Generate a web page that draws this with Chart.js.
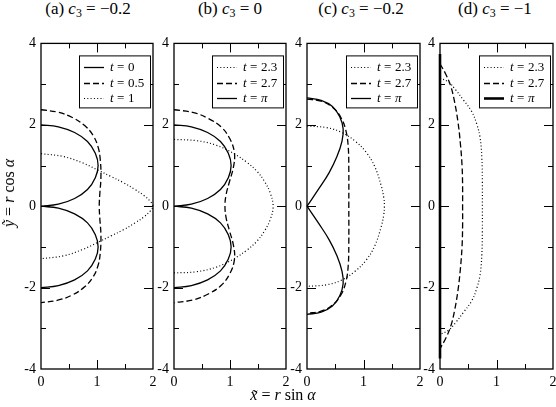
<!DOCTYPE html>
<html>
<head>
<meta charset="utf-8">
<script src="https://cdn.jsdelivr.net/npm/chart.js@4.4.0/dist/chart.umd.min.js"></script>
<style>
  body { margin: 0; width: 556px; height: 407px; background: #fff; position: relative; overflow: hidden;
         font-family: "Liberation Serif", serif; color: #000; }
  canvas { position: absolute; top: 30px; }
  .ttl { position: absolute; top: -1px; font-size: 17px; white-space: nowrap; transform: translateX(-50%); }
  .ttl sub, .lbl sub { font-size: 70%; vertical-align: -3px; line-height: 0; }
  .lbl { position: absolute; font-size: 16px; white-space: nowrap; }
</style>
</head>
<body>
<div id="titles"></div>
<canvas id="pa" width="156" height="359"></canvas>
<canvas id="pb" width="156" height="359"></canvas>
<canvas id="pc" width="157" height="359"></canvas>
<canvas id="pd" width="157" height="359"></canvas>
<div class="lbl" id="xlab" style="left:283px;top:386px;transform:translateX(-50%)"><i>x&#771;</i> = <i>r</i> sin <i>&alpha;</i></div>
<div class="lbl" id="ylab" style="left:9px;top:193px;transform:translate(-50%,-50%) rotate(-90deg)"><i>y&#771;</i> = <i>r</i> cos <i>&alpha;</i></div>
<script>
// panel labels
const panelNames = ['(a)', '(b)', '(c)', '(d)'];
const c3Values = ['\u22120.2', '0', '\u22120.2', '\u22121'];
const xTicks = [0, 1, 2];
const yTicks = [-4, -2, 0, 2, 4];

// (a) c3 = -0.2
const a_t0 = [[0,2],[0.31,1.95],[0.6,1.81],[0.83,1.59],[0.97,1.3],[1.02,1.0],[0.97,0.7],[0.83,0.41],[0.6,0.19],[0.31,0.05],[0,0],null,
              [0,0],[0.31,-0.05],[0.6,-0.19],[0.83,-0.41],[0.97,-0.7],[1.02,-1.0],[0.97,-1.3],[0.83,-1.59],[0.6,-1.81],[0.31,-1.95],[0,-2]];
const a_t05 = [[0,2.37],[0.3,2.31],[0.56,2.18],[0.78,1.98],[0.93,1.74],[1.02,1.45],[1.06,1.12],[1.07,0.7],[1.05,0.3],[1.04,0],
               [1.05,-0.3],[1.07,-0.7],[1.06,-1.12],[1.02,-1.45],[0.93,-1.74],[0.78,-1.98],[0.56,-2.18],[0.3,-2.31],[0,-2.37]];
const a_t1 = [[0,1.29],[0.4,1.22],[0.75,1.06],[1.02,0.885],[1.25,0.73],[1.47,0.58],[1.68,0.41],[1.84,0.26],[1.95,0.12],[2.0,0],
              [1.95,-0.12],[1.84,-0.26],[1.68,-0.41],[1.47,-0.58],[1.25,-0.73],[1.02,-0.885],[0.75,-1.06],[0.4,-1.22],[0,-1.29]];

// (b) c3 = 0
const b_t23 = [[0,1.64],[0.4,1.61],[0.75,1.5],[1.06,1.3],[1.3,1.08],[1.48,0.86],[1.62,0.6],[1.72,0.32],[1.77,0],
               [1.72,-0.32],[1.62,-0.6],[1.48,-0.86],[1.3,-1.08],[1.06,-1.3],[0.75,-1.5],[0.4,-1.61],[0,-1.64]];
const b_t27 = [[0,2.37],[0.35,2.3],[0.62,2.15],[0.84,1.95],[1.0,1.65],[1.08,1.3],[1.06,0.95],[0.99,0.6],[0.93,0.28],[0.91,0],
               [0.93,-0.28],[0.99,-0.6],[1.06,-0.95],[1.08,-1.3],[1.0,-1.65],[0.84,-1.95],[0.62,-2.15],[0.35,-2.3],[0,-2.37]];
const b_tpi = [[0,2],[0.31,1.95],[0.6,1.81],[0.83,1.59],[0.97,1.3],[1.02,1.0],[0.97,0.7],[0.83,0.41],[0.6,0.19],[0.31,0.05],[0,0],null,
               [0,0],[0.31,-0.05],[0.6,-0.19],[0.83,-0.41],[0.97,-0.7],[1.02,-1.0],[0.97,-1.3],[0.83,-1.59],[0.6,-1.81],[0.31,-1.95],[0,-2]];

// (c) c3 = -0.2
const c_t23 = [[0,1.97],[0.35,1.93],[0.62,1.81],[0.85,1.6],[1.05,1.32],[1.2,0.97],[1.31,0.52],[1.36,0.2],[1.37,0],
               [1.36,-0.2],[1.31,-0.52],[1.2,-0.97],[1.05,-1.32],[0.85,-1.6],[0.62,-1.81],[0.35,-1.93],[0,-1.97]];
const c_t27 = [[0,2.63],[0.25,2.58],[0.45,2.43],[0.6,2.18],[0.69,1.85],[0.73,1.45],[0.74,0.9],[0.74,0],
               [0.74,-0.9],[0.73,-1.45],[0.69,-1.85],[0.6,-2.18],[0.45,-2.43],[0.25,-2.58],[0,-2.63]];
const c_tpi = [[0,2.66],[0.25,2.6],[0.45,2.45],[0.58,2.2],[0.64,1.9],[0.62,1.6],[0.53,1.22],[0.39,0.82],[0.21,0.43],[0,0],null,
               [0,0],[0.21,-0.43],[0.39,-0.82],[0.53,-1.22],[0.62,-1.6],[0.64,-1.9],[0.58,-2.2],[0.45,-2.45],[0.25,-2.6],[0,-2.66]];

// (d) c3 = -1
const d_t23 = [[0,3.15],[0.15,3.05],[0.27,2.87],[0.42,2.6],[0.56,2.33],[0.65,2.02],[0.71,1.68],[0.74,1.2],[0.75,0.6],[0.75,0],
               [0.75,-0.6],[0.74,-1.2],[0.71,-1.68],[0.65,-2.02],[0.56,-2.33],[0.42,-2.6],[0.27,-2.87],[0.15,-3.05],[0,-3.15]];
const d_t27 = [[0,3.5],[0.1,3.25],[0.19,2.95],[0.26,2.55],[0.32,2.05],[0.36,1.55],[0.39,1.0],[0.4,0.5],[0.4,0],
               [0.4,-0.5],[0.39,-1.0],[0.36,-1.55],[0.32,-2.05],[0.26,-2.55],[0.19,-2.95],[0.1,-3.25],[0,-3.5]];
const d_tpi = [[0,3.74],[0,-3.74]];

// line styles
const SOLID = [], DASHED = [6, 3], DOTTED = [1, 2.3];

const panels = [
  { id: 'pa', left: 41, w: 112, series: [
    { t: '0', pts: a_t0, dash: SOLID }, { t: '0.5', pts: a_t05, dash: DASHED }, { t: '1', pts: a_t1, dash: DOTTED } ] },
  { id: 'pb', left: 174, w: 112, series: [
    { t: '2.3', pts: b_t23, dash: DOTTED }, { t: '2.7', pts: b_t27, dash: DASHED }, { t: '\u03c0', pts: b_tpi, dash: SOLID } ] },
  { id: 'pc', left: 307, w: 113, series: [
    { t: '2.3', pts: c_t23, dash: DOTTED }, { t: '2.7', pts: c_t27, dash: DASHED }, { t: '\u03c0', pts: c_tpi, dash: SOLID } ] },
  { id: 'pd', left: 440, w: 113, series: [
    { t: '2.3', pts: d_t23, dash: DOTTED }, { t: '2.7', pts: d_t27, dash: DASHED }, { t: '\u03c0', pts: d_tpi, dash: SOLID, lw: 2.6 } ] }
];

// titles above the panels
const titleBox = document.getElementById('titles');
const titleCenters = [88, 230, 361, 495];
panelNames.forEach(function (n, i) {
  const d = document.createElement('div');
  d.className = 'ttl';
  d.style.left = titleCenters[i] + 'px';
  d.innerHTML = n + ' <i>c</i><sub>3</sub> = ' + c3Values[i];
  titleBox.appendChild(d);
});

const SERIF = '"Liberation Serif", serif';

// frame, inward ticks on all sides, legend box
const framePlugin = {
  id: 'frame',
  afterDatasetsDraw(chart) {
    const ctx = chart.ctx, a = chart.chartArea, x = chart.scales.x, y = chart.scales.y;
    ctx.save();
    ctx.strokeStyle = '#000';
    ctx.lineWidth = 1;
    ctx.beginPath();
    for (let v = 0.5; v < 2; v += 0.5) {
      const px = Math.round(x.getPixelForValue(v)) + 0.5;
      const len = v % 1 === 0 ? 9 : 5;
      ctx.moveTo(px, a.bottom); ctx.lineTo(px, a.bottom - len);
      ctx.moveTo(px, a.top); ctx.lineTo(px, a.top + len);
    }
    for (let v = -3; v <= 3; v++) {
      const py = Math.round(y.getPixelForValue(v)) + 0.5;
      const len = v % 2 === 0 ? 9 : 5;
      ctx.moveTo(a.left, py); ctx.lineTo(a.left + len, py);
      ctx.moveTo(a.right, py); ctx.lineTo(a.right - len, py);
    }
    ctx.stroke();
    ctx.lineWidth = 1.3;
    ctx.strokeRect(a.left, a.top, a.right - a.left, a.bottom - a.top);

    // legend
    const bw = 71, bh = 52;
    const bx = a.right - 3 - bw, by = a.top + 12;
    ctx.fillStyle = '#fff';
    ctx.fillRect(bx, by, bw, bh);
    ctx.lineWidth = 1;
    ctx.strokeRect(bx + 0.5, by + 0.5, bw, bh);
    ctx.textBaseline = 'middle';
    chart.data.datasets.forEach(function (ds, i) {
      const ry = Math.round(by + 12 + i * 15.5) + 0.5;
      ctx.save();
      ctx.lineWidth = ds.borderWidth;
      ctx.setLineDash(ds.borderDash);
      ctx.beginPath();
      ctx.moveTo(bx + 5, ry); ctx.lineTo(bx + 25, ry);
      ctx.stroke();
      ctx.restore();
      ctx.fillStyle = '#000';
      let tx = bx + 31;
      ctx.font = 'italic 13px ' + SERIF;
      ctx.fillText('t', tx, ry);
      tx += ctx.measureText('t').width + 3.5;
      ctx.font = '13px ' + SERIF;
      ctx.fillText('=', tx, ry);
      tx += ctx.measureText('=').width + 3.5;
      ctx.font = (ds.label === '\u03c0' ? 'italic ' : '') + '13px ' + SERIF;
      ctx.fillText(ds.label, tx, ry);
    });
    ctx.restore();
  }
};

panels.forEach(function (p) {
  const cv = document.getElementById(p.id);
  cv.style.left = (p.left - 34) + 'px';
  new Chart(cv.getContext('2d'), {
    type: 'scatter',
    data: {
      datasets: p.series.map(function (s) {
        return {
          label: s.t,
          data: s.pts.map(function (q) { return q ? { x: q[0], y: q[1] } : { x: null, y: null }; }),
          showLine: true,
          borderColor: '#000',
          borderWidth: s.lw || (s.dash === DOTTED ? 1.2 : 1.3),
          borderDash: s.dash,
          pointRadius: 0,
          tension: 0.4,
          clip: false
        };
      })
    },
    options: {
      responsive: false,
      animation: false,
      devicePixelRatio: 1,
      layout: { padding: { left: 0, right: 10, top: 12, bottom: 0 } },
      plugins: { legend: { display: false }, tooltip: { enabled: false } },
      scales: {
        x: {
          type: 'linear', min: 0, max: 2,
          afterBuildTicks: function (s) { s.ticks = xTicks.map(function (v) { return { value: v }; }); },
          afterFit: function (s) { s.height = 20; },
          grid: { display: false, drawTicks: false },
          border: { display: false },
          ticks: { padding: 5, autoSkip: false, maxRotation: 0, color: '#000', font: { family: SERIF, size: 14 } }
        },
        y: {
          type: 'linear', min: -4, max: 4,
          afterBuildTicks: function (s) { s.ticks = yTicks.map(function (v) { return { value: v }; }); },
          afterFit: function (s) { s.width = 34; },
          grid: { display: false, drawTicks: false },
          border: { display: false },
          ticks: { padding: 5, autoSkip: false, color: '#000', font: { family: SERIF, size: 14 } }
        }
      }
    },
    plugins: [framePlugin]
  });
});
</script>
</body>
</html>
